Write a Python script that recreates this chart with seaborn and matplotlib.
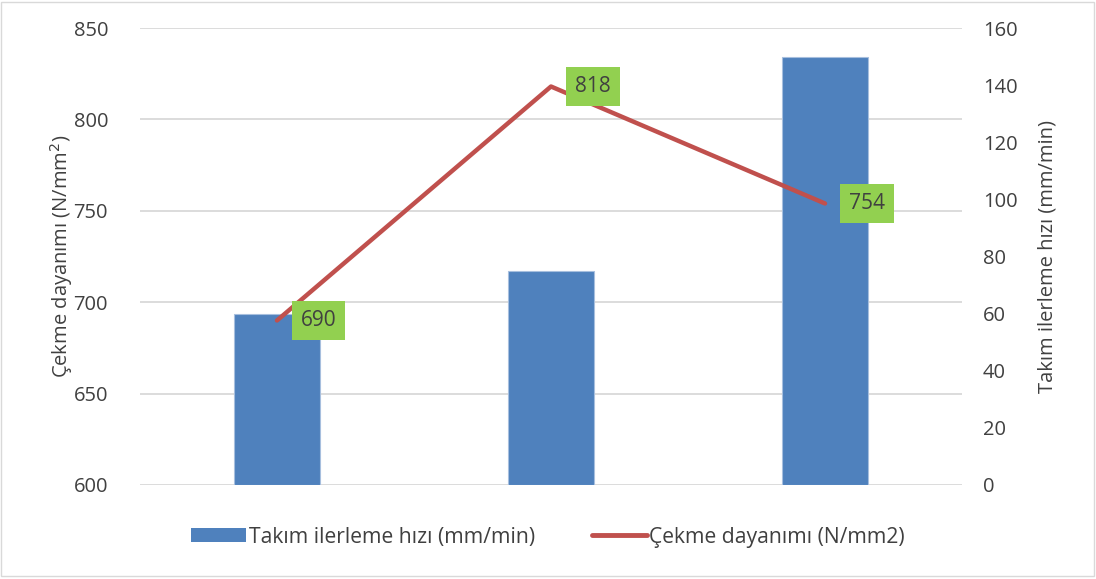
import matplotlib
matplotlib.use("Agg")
import matplotlib.pyplot as plt
import seaborn as sns
import pandas as pd
from matplotlib.patches import Rectangle, Patch
from matplotlib.lines import Line2D

# Data
categories = [0, 1, 2]
feed_rate = [60, 75, 150]          # Takım ilerleme hızı (mm/min) - right axis, bars
tensile = [690, 818, 754]          # Çekme dayanımı (N/mm2) - left axis, line
left_ticks = [600, 650, 700, 750, 800, 850]
right_ticks = [0, 20, 40, 60, 80, 100, 120, 140, 160]

sns.set_theme(style="white")
plt.rcParams['font.family'] = ['Open Sans', 'DejaVu Sans']

BAR = "#4F81BD"
LINE = "#C0504D"
LBL = "#92D050"
TXT = "#404040"
FS = 14.5

fig = plt.figure(figsize=(10.96, 5.79), dpi=100)
ax = fig.add_axes([140/1096, 1-485/579, 822/1096, (485-28)/579])

# bars on right axis
ax2 = ax.twinx()
# line on top
ax3 = ax.twinx()

# base axes: grid + left scale
ax.set_ylim(600, 850)
ax.set_yticks(left_ticks)
ax.set_xlim(-0.5, 2.5)
ax.set_xticks([])
ax.grid(axis='y', color='#D9D9D9', linewidth=1.3)
for s in ax.spines.values():
    s.set_visible(False)
ax.tick_params(axis='y', left=False, right=False, labelleft=True, labelright=False,
               pad=17, labelsize=FS, labelcolor=TXT)
ax.set_ylabel("Çekme dayanımı (N/mm$^2$)", fontsize=FS, color=TXT)
ax.yaxis.set_label_coords(-0.079, 0.5)

df_b = pd.DataFrame({"cat": categories, "feed": feed_rate})
sns.barplot(data=df_b, x="cat", y="feed", ax=ax2, color=BAR, saturation=1,
            width=0.314, edgecolor="#A7BFDE", linewidth=0.8)
ax2.set_ylim(0, 160)
ax2.set_yticks(right_ticks)
ax2.set_xlim(-0.5, 2.5)
ax2.set_xticks([])
ax2.set_xlabel("")
for s in ax2.spines.values():
    s.set_visible(False)
ax2.tick_params(axis='y', left=False, right=False, labelleft=False, labelright=True,
                pad=9, labelsize=FS, labelcolor=TXT)
ax2.set_ylabel("Takım ilerleme hızı (mm/min)", fontsize=FS, color=TXT)
ax2.yaxis.set_label_position('right')
ax2.yaxis.set_label_coords(1.092, 0.5)

ax3.set_ylim(600, 850)
df_l = pd.DataFrame({"cat": categories, "ten": tensile})
sns.lineplot(data=df_l, x="cat", y="ten", ax=ax3, color=LINE, linewidth=3.2,
             solid_capstyle='round')
ax3.set_xlim(-0.5, 2.5)
ax3.axis('off')

for x, v in zip(categories, tensile):
    ax3.annotate(str(v), (x, v), xytext=(24, 0), textcoords='offset pixels',
                 ha='left', va='center', fontsize=15, color=TXT,
                 bbox=dict(boxstyle='square,pad=0.42', fc=LBL, ec='none'))

handles = [Patch(facecolor=BAR, edgecolor='none'),
           Line2D([0], [0], color=LINE, linewidth=3.5)]
fig.legend(handles, ["Takım ilerleme hızı (mm/min)", "Çekme dayanımı (N/mm2)"],
           loc='center', bbox_to_anchor=(0.5, 1-537/579), ncol=2, frameon=False,
           fontsize=15.2, handlelength=2.6, handleheight=0.6, handletextpad=0.12,
           columnspacing=2.7, labelcolor=TXT)

fig.patches.append(Rectangle((1/1096, 3/579), 1093/1096, 574/579,
                             transform=fig.transFigure, fill=False,
                             edgecolor='#D9D9D9', linewidth=1))

fig.savefig("out.png", dpi=100)
